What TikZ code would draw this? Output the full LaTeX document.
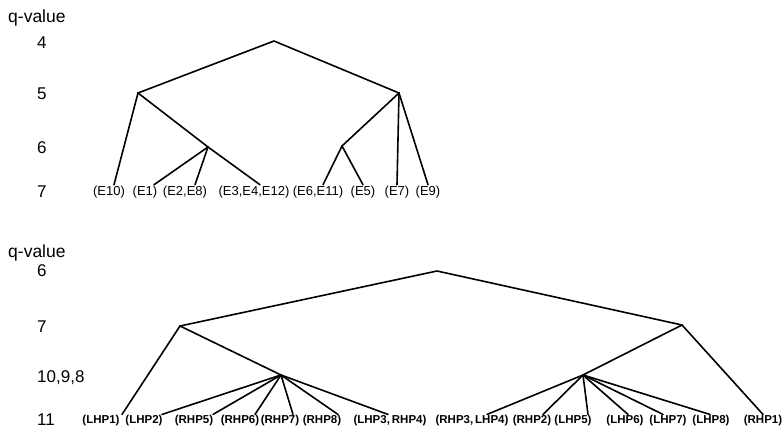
\documentclass[tikz,border=0pt]{standalone}
\usepackage{fontspec}
\setmainfont{Liberation Sans}
\usetikzlibrary{calc}
\tikzset{
qhead/.style={anchor=west,inner sep=0pt,font=\fontsize{17.5}{19}\selectfont},
qlevel/.style={anchor=west,inner sep=0pt,font=\fontsize{17}{19}\selectfont},
eleaf/.style={inner sep=1pt,font=\fontsize{13}{15}\selectfont},
hleaf/.style={inner sep=1pt,font=\fontsize{11.5}{13}\selectfont\bfseries},
tline/.style={line width=1.6pt,line join=round,line cap=round}
}
\begin{document}
\begin{tikzpicture}[x=1pt,y=-1pt]
\useasboundingbox (0,0) rectangle (782,435);
% upper tree: q-values 4..7
\node[qhead] (qa) at (8,18) {q-value};
\node[qlevel] (qa4) at (37,43) {4};
\node[qlevel] (qa5) at (37,94) {5};
\node[qlevel] (qa6) at (37,148) {6};
\node[qlevel] (qa7) at (37,192) {7};
\coordinate (t4) at (274,41);
\coordinate (t5l) at (138,93);
\coordinate (t5r) at (399,93);
\coordinate (t6l) at (208,147);
\coordinate (t6r) at (342,146);
\node[eleaf] (e10) at (109,192) {(E10)};
\node[eleaf] (e1) at (145,192) {(E1)};
\node[eleaf] (e2e8) at (185,192) {(E2,E8)};
\node[eleaf] (e3e4e12) at (254,192) {(E3,E4,E12)};
\node[eleaf] (e6e11) at (318,192) {(E6,E11)};
\node[eleaf] (e5) at (363,192) {(E5)};
\node[eleaf] (e7) at (397,192) {(E7)};
\node[eleaf] (e9) at (428,192) {(E9)};
\draw[tline] (t5l) -- (t4) -- (t5r);
\draw[tline] (t5l) -- ($(e10.north)+(5,0)$);
\draw[tline] (t5l) -- (t6l) -- ($(e3e4e12.north)+(6,0)$);
\draw[tline] (t6l) -- ($(e1.north)+(9,0)$);
\draw[tline] (t6l) -- ($(e2e8.north)+(10,0)$);
\draw[tline] (t5r) -- (t6r) -- ($(e6e11.north)+(5,0)$);
\draw[tline] (t6r) -- (e5.north);
\draw[tline] (t5r) -- (e7.north);
\draw[tline] (t5r) -- (e9.north);
% lower tree: q-values 6..11
\node[qhead] (qb) at (8,253) {q-value};
\node[qlevel] (qb6) at (37,271) {6};
\node[qlevel] (qb7) at (37,327) {7};
\node[qlevel] (qb10) at (37,378) {10,9,8};
\node[qlevel] (qb11) at (37,420) {11};
\coordinate (b6) at (437,271);
\coordinate (b7l) at (180,326);
\coordinate (b7r) at (682,325);
\coordinate (b10l) at (281,375);
\coordinate (b10r) at (583,375);
\node[hleaf] (lhp1) at (101,421) {(LHP1)};
\node[hleaf] (lhp2) at (144,421) {(LHP2)};
\node[hleaf] (rhp5) at (194,421) {(RHP5)};
\node[hleaf] (rhp6) at (240,421) {(RHP6)};
\node[hleaf] (rhp7) at (280,421) {(RHP7)};
\node[hleaf] (rhp8) at (322,421) {(RHP8)};
\node[hleaf] (lhp3rhp4) at (390,421) {(LHP3,\,RHP4)};
\node[hleaf] (rhp3lhp4) at (472,421) {(RHP3,\,LHP4)};
\node[hleaf] (rhp2) at (532,421) {(RHP2)};
\node[hleaf] (lhp5) at (573,421) {(LHP5)};
\node[hleaf] (lhp6) at (625,421) {(LHP6)};
\node[hleaf] (lhp7) at (668,421) {(LHP7)};
\node[hleaf] (lhp8) at (711,421) {(LHP8)};
\node[hleaf] (rhp1) at (763,421) {(RHP1)};
\draw[tline] (b7l) -- (b6) -- (b7r);
\draw[tline] (b7l) -- ($(lhp1.north)+(21,0)$);
\draw[tline] (b7l) -- (b10l);
\draw[tline] (b7r) -- (b10r);
\draw[tline] (b7r) -- (rhp1.north);
\foreach \leaf/\dx in {lhp2/18,rhp5/19,rhp6/15,rhp7/13,rhp8/16,lhp3rhp4/-2}
  \draw[tline] (b10l) -- ($(\leaf.north)+(\dx,0)$);
\foreach \leaf/\dx in {rhp3lhp4/15,rhp2/11,lhp5/15,lhp6/3,lhp7/-5,lhp8/-1}
  \draw[tline] (b10r) -- ($(\leaf.north)+(\dx,0)$);
\end{tikzpicture}
\end{document}
